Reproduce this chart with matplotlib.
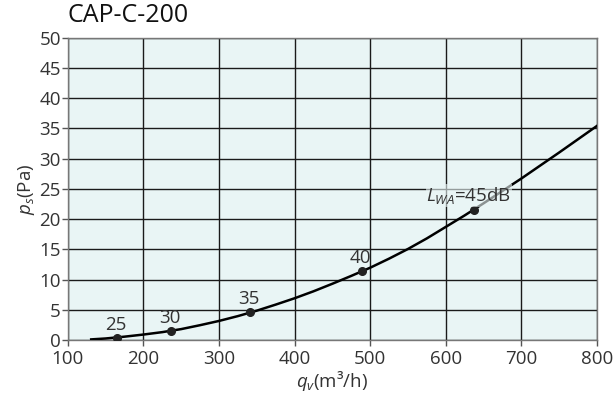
import matplotlib
matplotlib.use("Agg")
import matplotlib.pyplot as plt

plt.rcParams['font.family'] = ['Open Sans', 'DejaVu Sans']
plt.rcParams['mathtext.fontset'] = 'custom'
plt.rcParams['mathtext.rm'] = 'Open Sans'
plt.rcParams['mathtext.it'] = 'Open Sans:italic'

# curve
flow = [131, 150, 175, 200, 225, 250, 275, 300, 325, 350, 375, 400, 425, 450, 475,
        500, 525, 550, 575, 600, 625, 650, 675, 700, 725, 750, 775, 800]
pressure = [0.1, 0.25, 0.55, 0.9, 1.3, 1.8, 2.45, 3.15, 3.95, 4.85, 5.85, 6.9, 8.05, 9.3, 10.6,
            11.95, 13.45, 15.05, 16.8, 18.7, 20.6, 22.6, 24.65, 26.7, 28.85, 31.0, 33.2, 35.4]

# sound level points
pt_flow = [165, 237, 341, 489, 638]
pt_pressure = [0.38, 1.5, 4.6, 11.46, 21.5]
pt_labels = ['25', '30', '35', '40', r'$L_{WA}$=45dB']

xticks = [100, 200, 300, 400, 500, 600, 700, 800]
yticks = [0, 5, 10, 15, 20, 25, 30, 35, 40, 45, 50]

txt = '#333333'
bg = '#e9f5f5'

fig = plt.figure(figsize=(6.16, 4.05), dpi=100)
ax = fig.add_axes([0.110, 0.1605, 0.859, 0.7465])
ax.set_facecolor(bg)

ax.set_xlim(100, 800)
ax.set_ylim(0, 50)
ax.set_xticks(xticks)
ax.set_yticks(yticks)
ax.grid(True, color='#1a1a1a', linewidth=1.0)
ax.set_axisbelow(True)

for s in ax.spines.values():
    s.set_color('#777777')
    s.set_linewidth(1.0)

ax.tick_params(direction='out', length=4, width=1, color='#555555',
               labelsize=13.5, labelcolor=txt)
ax.tick_params(axis='x', pad=3)
ax.tick_params(axis='y', pad=1)

ax.plot(flow, pressure, color='black', linewidth=1.8, zorder=3)
ax.plot(pt_flow, pt_pressure, 'o', color='#222222', markersize=5.5, zorder=4)

for i, (q, p, lab) in enumerate(zip(pt_flow, pt_pressure, pt_labels)):
    last = i == len(pt_labels) - 1
    ax.annotate(lab, (q, p), xytext=(-4 if last else -1, 3), textcoords='offset points',
                ha='center', va='bottom', fontsize=13.5, color=txt, zorder=5,
                bbox=dict(boxstyle='square,pad=0.05', fc=bg, ec='none', alpha=0.6) if last else None)

ax.set_xlabel(r'$q_v$(m³/h)', fontsize=13.5, color=txt, labelpad=1)
ax.set_ylabel(r'$p_s$(Pa)', fontsize=13.5, color=txt, labelpad=2)

fig.text(0.110, 0.932, 'CAP-C-200', fontsize=18, color='#111111', ha='left', va='bottom')

fig.savefig('out.png', dpi=100)
